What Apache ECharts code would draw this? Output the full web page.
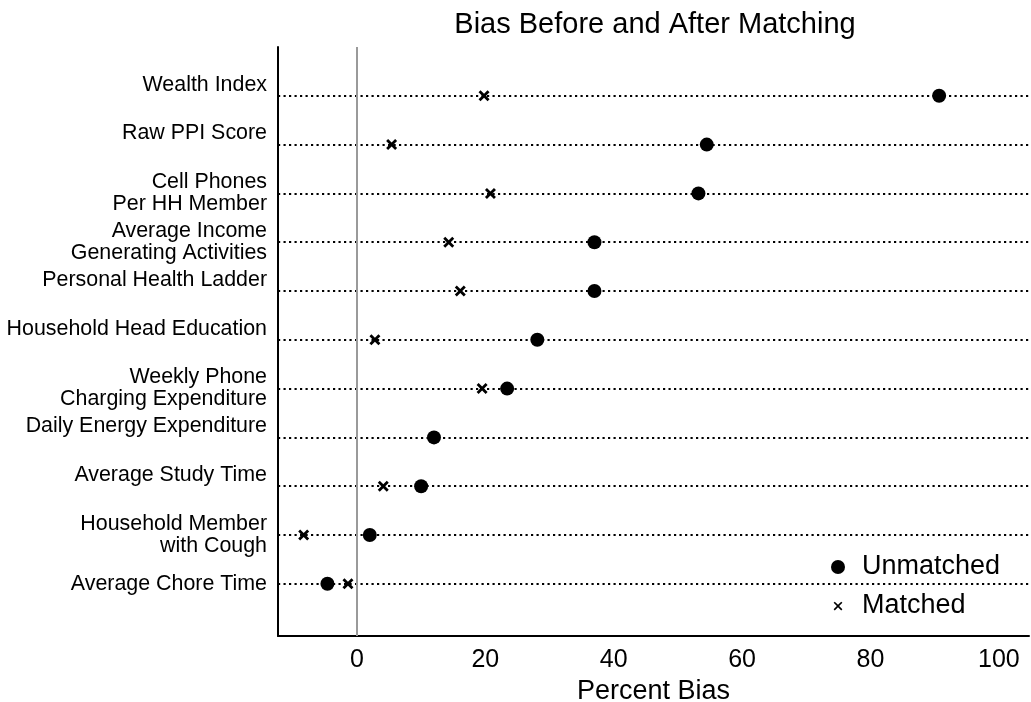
<!DOCTYPE html>
<html>
<head>
<meta charset="utf-8">
<script src="https://cdn.jsdelivr.net/npm/echarts@6/dist/echarts.min.js"></script>
<style>html,body{margin:0;padding:0;background:#fff}#chart{width:1031px;height:702px}</style>
</head>
<body>
<div id="chart"></div>
<script>
const categories = [
  'Wealth Index',
  'Raw PPI Score',
  'Cell Phones\nPer HH Member',
  'Average Income\nGenerating Activities',
  'Personal Health Ladder',
  'Household Head Education',
  'Weekly Phone\nCharging Expenditure',
  'Daily Energy Expenditure',
  'Average Study Time',
  'Household Member\nwith Cough',
  'Average Chore Time'
];
const unmatched = [90.7, 54.5, 53.2, 37.0, 37.0, 28.1, 23.4, 12.0, 10.0, 2.0, -4.6];
const matched   = [19.8, 5.4, 20.8, 14.3, 16.1, 2.8, 19.5, 12.0, 4.1, -8.3, -1.4];
const xTicks = [0, 20, 40, 60, 80, 100];
const titleText = 'Bias Before and After Matching';
const xName = 'Percent Bias';
const seriesNames = ['Unmatched', 'Matched'];

const FONT = '"Liberation Sans", Arial, Helvetica, sans-serif';
const X_PATH = 'path://M0,1.8 L1.8,0 L5,3.2 L8.2,0 L10,1.8 L6.8,5 L10,8.2 L8.2,10 L5,6.8 L1.8,10 L0,8.2 L3.2,5 Z';
const X_LEGEND = 'path://M-3,-3 M13,13 M0,1.3 L1.3,0 L5,3.7 L8.7,0 L10,1.3 L6.3,5 L10,8.7 L8.7,10 L5,6.3 L1.3,10 L0,8.7 L3.7,5 Z';

const chart = echarts.init(document.getElementById('chart'), null, {renderer: 'canvas'});

const rowLines = categories.map((c, i) => ({ yAxis: i + 1 }));

const option = {
  animation: false,
  backgroundColor: '#fff',
  textStyle: { fontFamily: FONT },
  title: {
    text: titleText,
    left: 650,
    top: 5,
    textAlign: 'center',
    textStyle: { fontFamily: FONT, fontSize: 29, fontWeight: 'normal', color: '#000' }
  },
  legend: {
    orient: 'vertical',
    left: 815,
    top: 545,
    backgroundColor: '#fff',
    padding: [8, 20, 8, 16],
    itemGap: 11,
    itemWidth: 14,
    itemHeight: 14,
    textStyle: { fontFamily: FONT, fontSize: 27, color: '#000', lineHeight: 28, padding: [0, 0, 0, 12] },
    data: [
      { name: seriesNames[0], icon: 'circle' },
      { name: seriesNames[1], icon: X_LEGEND }
    ]
  },
  grid: { left: 278, right: 2, top: 47, bottom: 66, containLabel: false, outerBoundsMode: 'none' },
  xAxis: {
    type: 'value',
    min: -12.3,
    max: 104.7,
    name: xName,
    nameLocation: 'middle',
    nameGap: 42,
    nameTextStyle: { fontFamily: FONT, fontSize: 27, color: '#000' },
    axisLine: { show: true, onZero: false, lineStyle: { color: '#000', width: 2 } },
    axisTick: { show: false },
    splitLine: { show: false },
    axisLabel: {
      fontFamily: FONT, fontSize: 25, color: '#000', margin: 12,
      formatter: v => (xTicks.indexOf(Math.round(v * 1000) / 1000) >= 0 ? String(Math.round(v)) : '')
    }
  },
  yAxis: {
    type: 'value',
    inverse: true,
    min: 0,
    max: 12.07,
    interval: 1,
    axisLine: { show: true, onZero: false, lineStyle: { color: '#000', width: 2 } },
    axisTick: { show: false },
    splitLine: { show: false },
    axisLabel: {
      fontFamily: FONT, fontSize: 21.4, lineHeight: 22, color: '#000', margin: 11, align: 'right',
      formatter: v => {
        const i = Math.round(v) - 1;
        if (Math.abs(v - Math.round(v)) > 1e-6 || i < 0 || i >= categories.length) return '';
        const s = categories[i];
        return (s.indexOf('\n') < 0 && i < categories.length - 1) ? s + '\n ' : s;
      }
    }
  },
  series: [
    {
      name: seriesNames[1],
      type: 'scatter',
      z: 2,
      symbol: X_PATH,
      symbolSize: 11,
      itemStyle: { color: '#000', opacity: 1 },
      data: matched.map((v, i) => [v, i + 1]),
      markLine: {
        silent: true,
        symbol: ['none', 'none'],
        label: { show: false },
        lineStyle: { color: '#000', width: 2.2, type: [2.2, 3.3] },
        data: rowLines.concat([{ xAxis: 0, lineStyle: { color: '#9a9a9a', width: 2, type: 'solid' } }])
      }
    },
    {
      name: seriesNames[0],
      type: 'scatter',
      z: 3,
      symbol: 'circle',
      symbolSize: 14,
      itemStyle: { color: '#000', opacity: 1 },
      data: unmatched.map((v, i) => [v, i + 1])
    }
  ]
};
chart.setOption(option);
</script>
</body>
</html>
